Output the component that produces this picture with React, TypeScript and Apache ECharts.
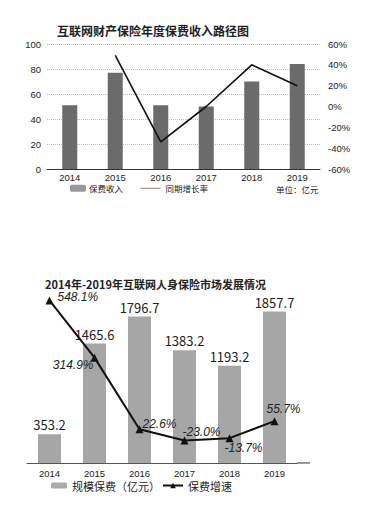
import React, { useEffect, useRef } from "react";
import * as echarts from "echarts";

const years = ["2014", "2015", "2016", "2017", "2018", "2019"];
const propertyPremium = [51, 77, 51, 50, 70, 84];
const propertyGrowth = [null, 49, -34, 0, 40, 20];
const lifePremium = [353.2, 1465.6, 1796.7, 1383.2, 1193.2, 1857.7];
const lifeGrowth = [548.1, 314.9, 22.6, -23.0, -13.7, 55.7];

const title1 = "互联网财产保险年度保费收入路径图";
const title2 = "2014年-2019年互联网人身保险市场发展情况";
const unitText = "单位：亿元";

const growthLabelPlacement: { pos: string; off: [number, number] }[] = [
  { pos: "right", off: [-1, -3] },
  { pos: "left", off: [8, 7] },
  { pos: "right", off: [-6, -5] },
  { pos: "right", off: [-11, -8] },
  { pos: "right", off: [-14, 10] },
  { pos: "right", off: [-17, -12] },
];

const FONT = "'Noto Sans CJK SC', 'Noto Sans', sans-serif";
const NUM_FONT = "'Liberation Sans', sans-serif";

export default function App() {
  const ref = useRef<HTMLDivElement>(null);
  useEffect(() => {
    if (!ref.current) return;
    const chart = echarts.init(ref.current, null, { renderer: "svg" });
    const pct = (v: number | string) => `${v}%`;
    chart.setOption({
      animation: false,
      textStyle: { fontFamily: FONT },
      title: [
        {
          text: title1,
          left: 52,
          top: 19,
          textStyle: { fontSize: 12, fontWeight: "bold", color: "#222", fontFamily: FONT },
        },
        {
          text: title2,
          left: 40,
          top: 273,
          textStyle: { fontSize: 11, fontWeight: "bold", color: "#222", fontFamily: FONT },
        },
      ],
      legend: [
        {
          left: 70,
          top: 184,
          padding: 0,
          selectedMode: false,
          itemWidth: 16,
          itemHeight: 7,
          itemGap: 0,
          textStyle: { fontSize: 8.5, color: "#222", fontFamily: FONT, padding: [0, 0, 0, -2] },
          data: [{ name: "保费收入", itemStyle: { color: "#999" } }],
        },
        {
          left: 140,
          top: 184,
          padding: 0,
          selectedMode: false,
          itemWidth: 20,
          itemHeight: 7,
          textStyle: { fontSize: 8.5, color: "#222", fontFamily: FONT },
          data: [
            {
              name: "同期增长率",
              itemStyle: { color: "rgba(0,0,0,0)", borderWidth: 0, opacity: 0 },
              lineStyle: { color: "#888", width: 1 },
            },
          ],
        },
        {
          left: 51,
          top: 480,
          padding: 0,
          selectedMode: false,
          itemWidth: 16,
          itemHeight: 6,
          textStyle: { fontSize: 11, color: "#222", fontFamily: FONT },
          data: [{ name: "规模保费（亿元）", itemStyle: { color: "#aaa" } }],
        },
        {
          left: 162,
          top: 480,
          padding: 0,
          selectedMode: false,
          itemWidth: 20,
          itemHeight: 7,
          textStyle: { fontSize: 11, color: "#222", fontFamily: FONT },
          data: ["保费增速"],
        },
      ],
      grid: [
        { left: 47, right: 49, top: 44, bottom: 351 },
        { left: 27, right: 72, top: 300, bottom: 57 },
      ],
      xAxis: [
        {
          type: "category",
          gridIndex: 0,
          data: years,
          axisLine: { lineStyle: { color: "#333", width: 1 } },
          axisTick: { show: false },
          axisLabel: { fontSize: 9.5, color: "#222", margin: 3, fontFamily: NUM_FONT },
        },
        {
          type: "category",
          gridIndex: 1,
          data: years,
          axisLine: { lineStyle: { color: "#555", width: 1.2 } },
          axisTick: { show: false },
          axisLabel: { fontSize: 9.5, color: "#222", margin: 5, fontFamily: NUM_FONT },
        },
      ],
      yAxis: [
        {
          type: "value",
          gridIndex: 0,
          min: 0,
          max: 100,
          interval: 20,
          axisLine: { show: false },
          axisTick: { show: false },
          axisLabel: { fontSize: 9.5, color: "#222", margin: 6, fontFamily: NUM_FONT },
          splitLine: { lineStyle: { color: "#bbb", type: [1, 1] } },
        },
        {
          type: "value",
          gridIndex: 0,
          position: "right",
          min: -60,
          max: 60,
          interval: 20,
          axisLine: { show: false },
          axisTick: { show: false },
          axisLabel: { fontSize: 9.5, color: "#222", margin: 8, formatter: pct, fontFamily: NUM_FONT },
          splitLine: { show: false },
        },
        { type: "value", gridIndex: 1, min: 0, max: 2000, show: false },
        { type: "value", gridIndex: 1, min: -115, max: 550, show: false },
      ],
      series: [
        {
          name: "保费收入",
          type: "bar",
          xAxisIndex: 0,
          yAxisIndex: 0,
          barWidth: 15,
          itemStyle: { color: "#6b6b6b" },
          data: propertyPremium,
        },
        {
          name: "同期增长率",
          type: "line",
          xAxisIndex: 0,
          yAxisIndex: 1,
          symbol: "none",
          lineStyle: { color: "#111", width: 1.6 },
          itemStyle: { color: "#888" },
          data: propertyGrowth,
        },
        {
          name: "规模保费（亿元）",
          type: "bar",
          xAxisIndex: 1,
          yAxisIndex: 2,
          barWidth: 23,
          itemStyle: { color: "#a6a6a6" },
          label: {
            show: true,
            position: "top",
            distance: 3,
            fontSize: 13,
            color: "#222",
            fontFamily: FONT,
          },
          data: lifePremium,
        },
        {
          name: "保费增速",
          type: "line",
          xAxisIndex: 1,
          yAxisIndex: 3,
          symbol: "triangle",
          symbolSize: 8,
          lineStyle: { color: "#111", width: 2 },
          itemStyle: { color: "#111" },
          data: lifeGrowth.map((v, i) => ({
            value: v,
            label: {
              show: true,
              position: growthLabelPlacement[i].pos,
              offset: growthLabelPlacement[i].off,
              formatter: pct(v.toFixed(1)),
              fontSize: 12,
              fontStyle: "italic",
              color: "#222",
              fontFamily: NUM_FONT,
            },
          })),
        },
      ],
      graphic: [
        {
          type: "text",
          left: 276,
          top: 185,
          style: { text: unitText, fontSize: 8.5, fill: "#222", fontFamily: FONT },
        },
        {
          type: "line",
          shape: { x1: 297, y1: 463, x2: 310, y2: 463 },
          style: { stroke: "#555", lineWidth: 1.2 },
        },
      ],
    });
    return () => chart.dispose();
  }, []);
  return (
    <div
      ref={ref}
      style={{ position: "fixed", left: 0, top: 0, width: 369, height: 520, background: "#fff" }}
    />
  );
}
